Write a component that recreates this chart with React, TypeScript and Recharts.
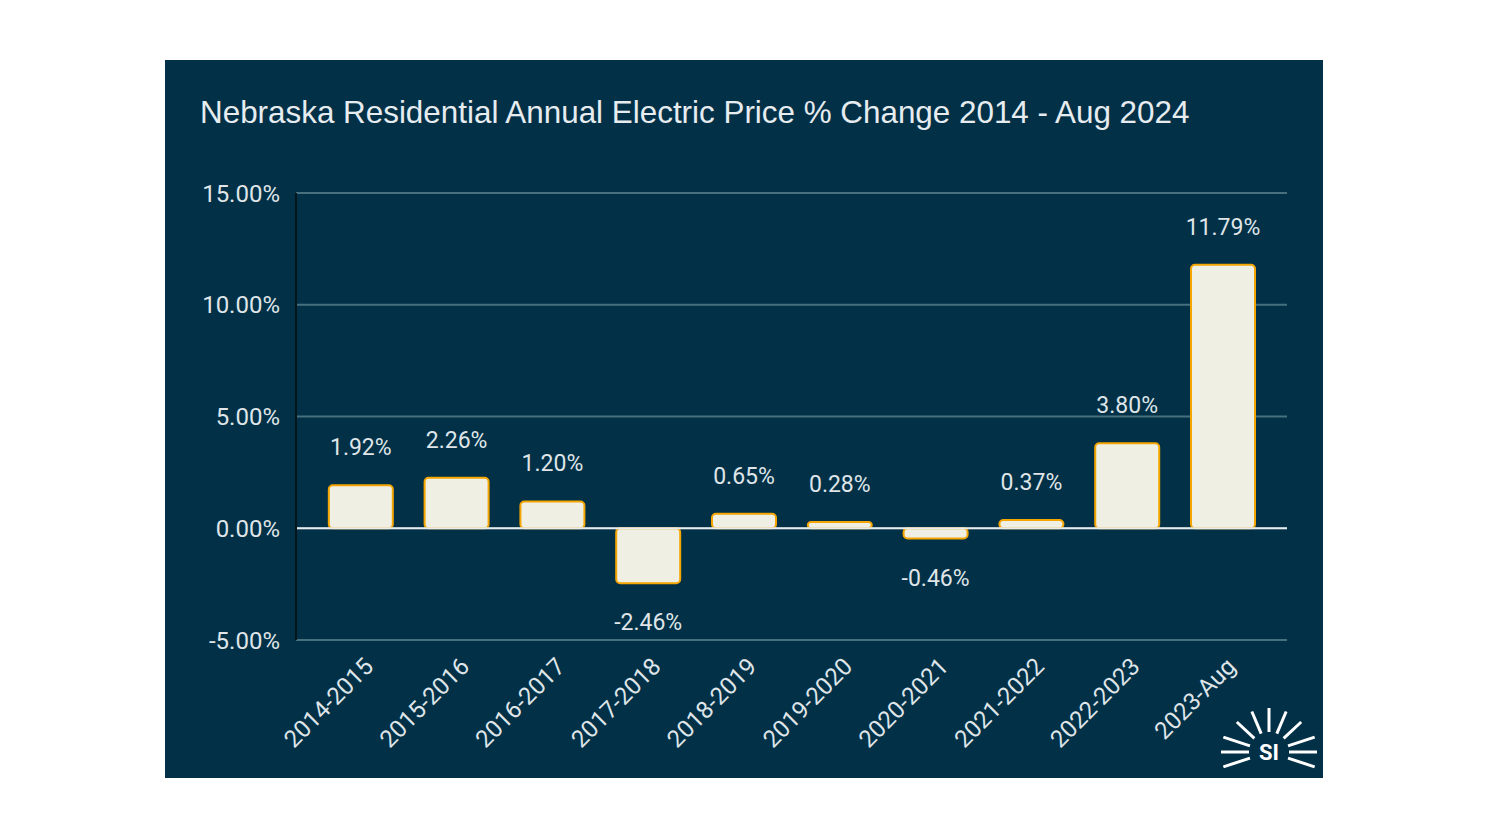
import React from "react";
import { BarChart, Bar, XAxis, YAxis, CartesianGrid, ReferenceLine, LabelList } from "recharts";

const categories = ["2014-2015", "2015-2016", "2016-2017", "2017-2018", "2018-2019", "2019-2020", "2020-2021", "2021-2022", "2022-2023", "2023-Aug"];
const changes = [1.92, 2.26, 1.2, -2.46, 0.65, 0.28, -0.46, 0.37, 3.8, 11.79];
const yTicks = [-5, 0, 5, 10, 15];
const title = "Nebraska Residential Annual Electric Price % Change 2014 - Aug 2024";

const data = categories.map((c, i) => ({ name: c, value: changes[i] }));

const BG = "#023047";
const TEXT = "#dfe5e8";
const FONT = "Roboto, 'Noto Sans', sans-serif";

const XTick = (props: any) => {
  const { x, y, payload } = props;
  const ax = x + 14;
  const ay = y + 20;
  return (
    <text
      x={ax}
      y={ay}
      transform={`rotate(-45 ${ax} ${ay})`}
      textAnchor="end"
      fill={TEXT}
      fontSize={24}
      fontFamily={FONT}
    >
      {payload.value}
    </text>
  );
};

const ValueLabel = (props: any) => {
  const { x, y, width, height, value } = props;
  const top = Math.min(y, y + height);
  const bottom = Math.max(y, y + height);
  const cx = x + width / 2;
  const ty = value >= 0 ? top - 30 : bottom + 47;
  return (
    <text x={cx} y={ty} textAnchor="middle" fill={TEXT} fontSize={23} fontFamily={FONT}>
      {value.toFixed(2) + "%"}
    </text>
  );
};

const Logo = () => {
  const cx = 1269;
  const cy = 752;
  const angles = [-90, -113, -67, -137, -43, -162, -18, 180, 0, 162, 18];
  return (
    <svg width={1488} height={837} style={{ position: "absolute", left: 0, top: 0, pointerEvents: "none" }}>
      {angles.map((a, i) => {
        const r = (a * Math.PI) / 180;
        const r1 = 20;
        const r2 = Math.abs(Math.cos(r)) > 0.9 ? 48 : 44;
        return (
          <line
            key={i}
            x1={cx + r1 * Math.cos(r)}
            y1={cy + r1 * Math.sin(r)}
            x2={cx + r2 * Math.cos(r)}
            y2={cy + r2 * Math.sin(r)}
            stroke="#ffffff"
            strokeWidth={3}
          />
        );
      })}
      <text x={cx} y={cy + 8} textAnchor="middle" fill="#ffffff" fontSize={22} fontWeight={700} fontFamily={FONT}>
        SI
      </text>
    </svg>
  );
};

export default function App() {
  return (
    <div style={{ position: "absolute", left: 0, top: 0, width: 1488, height: 837, background: "#ffffff" }}>
      <div style={{ position: "absolute", left: 165, top: 60, width: 1158, height: 718, background: BG }}>
        <div
          style={{
            position: "absolute",
            left: 35,
            top: 35,
            color: "#e6ecef",
            fontFamily: "'Liberation Sans', Arial, sans-serif",
            fontSize: 31.4,
            whiteSpace: "nowrap",
            lineHeight: "36px",
          }}
        >
          {title}
        </div>
        <BarChart
          width={1158}
          height={718}
          data={data}
          margin={{ top: 133, right: 36, left: 0, bottom: 0 }}
          barCategoryGap="16.5%"
        >
          <CartesianGrid horizontal vertical={false} stroke="#47707f" strokeWidth={2} />
          <XAxis
            dataKey="name"
            height={138}
            padding={{ left: 17, right: 16 }}
            axisLine={false}
            tickLine={false}
            interval={0}
            tick={<XTick />}
          />
          <YAxis
            width={131}
            domain={[-5, 15]}
            ticks={yTicks}
            allowDataOverflow
            tickFormatter={(v: number) => v.toFixed(2) + "%"}
            axisLine={{ stroke: "#06141c", strokeWidth: 2 }}
            tickLine={false}
            tickMargin={10}
            tick={{ fill: TEXT, fontSize: 24, fontFamily: FONT }}
          />
          <ReferenceLine y={0} stroke="#e8ecee" strokeWidth={2} />
          <Bar dataKey="value" fill="#efefe3" stroke="#f5a500" strokeWidth={2} radius={4} isAnimationActive={false}>
            <LabelList dataKey="value" content={<ValueLabel />} />
          </Bar>
        </BarChart>
      </div>
      <Logo />
    </div>
  );
}
